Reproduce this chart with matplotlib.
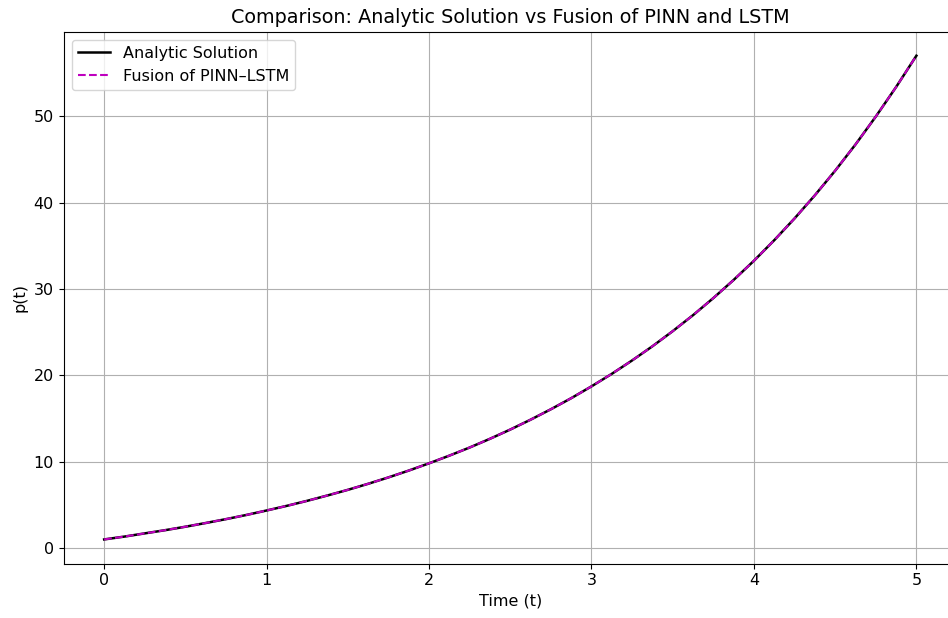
import matplotlib
matplotlib.use("Agg")
import matplotlib.pyplot as plt

# values (every 0.125 in t)
t = [0.0, 0.125, 0.25, 0.375, 0.5, 0.625, 0.75, 0.875, 1.0, 1.125, 1.25,
     1.375, 1.5, 1.625, 1.75, 1.875, 2.0, 2.125, 2.25, 2.375, 2.5,
     2.625, 2.75, 2.875, 3.0, 3.125, 3.25, 3.375, 3.5, 3.625, 3.75,
     3.875, 4.0, 4.125, 4.25, 4.375, 4.5, 4.625, 4.75, 4.875, 5.0]
p_analytic = [1.0, 1.33, 1.7, 2.07, 2.47, 2.9, 3.35, 3.83, 4.35, 4.89, 5.47,
              6.09, 6.74, 7.44, 8.18, 8.97, 9.81, 10.7, 11.64, 12.65, 13.72,
              14.86, 16.07, 17.35, 18.72, 20.17, 21.72, 23.36, 25.11, 26.96, 28.94,
              31.04, 33.26, 35.64, 38.16, 40.84, 43.69, 46.72, 49.95, 53.37, 57.0]
p_fusion = [1.0, 1.33, 1.7, 2.07, 2.47, 2.9, 3.35, 3.83, 4.35, 4.89, 5.47,
            6.09, 6.74, 7.44, 8.18, 8.97, 9.81, 10.7, 11.64, 12.65, 13.72,
            14.86, 16.07, 17.35, 18.72, 20.17, 21.72, 23.36, 25.11, 26.96, 28.94,
            31.04, 33.26, 35.64, 38.16, 40.84, 43.69, 46.72, 49.95, 53.37, 57.0]

plt.rcParams['font.size'] = 11.5

fig, ax = plt.subplots(figsize=(9.48, 6.18), dpi=100, facecolor='white')
ax.plot(t, p_analytic, 'k-', linewidth=1.8, label='Analytic Solution')
ax.plot(t, p_fusion, 'm--', linewidth=1.5, label='Fusion of PINN\u2013LSTM')
ax.grid(True)
ax.set_xlabel('Time (t)')
ax.set_ylabel('p(t)')
ax.set_title('Comparison: Analytic Solution vs Fusion of PINN and LSTM', fontsize=13.8)
ax.legend(loc='upper left')
# the reference image is cropped on the right, so the axes run past the edge
fig.subplots_adjust(left=0.067, right=1.0095, top=0.949, bottom=0.088)
fig.savefig('out.png', dpi=100)
